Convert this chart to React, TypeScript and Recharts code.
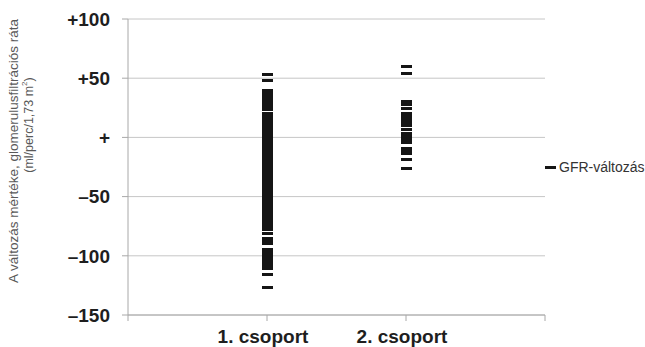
import { ScatterChart, Scatter, XAxis, YAxis, CartesianGrid } from "recharts";

const groups = ["1. csoport", "2. csoport"];
const yTicks = [-150, -100, -50, 0, 50, 100];

// GFR change per patient (ml/perc/1,73 m2)
const group1Values = [
  53, 48,
  39.5, 37.5, 35, 33, 31, 29, 27, 25, 23.5,
  20, 18, 16.5, 14, 12, 10, 8, 6.5, 4, 2, 0, -2, -4, -6, -8, -10, -12, -14,
  -16, -18, -20, -22, -24, -26, -28, -30, -32, -34, -36, -38, -40, -42, -44,
  -46, -48, -50, -52, -54, -56, -58, -60, -62, -64, -66, -68, -70, -72, -74,
  -76, -78,
  -81,
  -85, -87.5, -90,
  -95, -97, -99, -101, -103, -105, -107, -109, -111,
  -116, -127,
];
const group2Values = [
  60, 54, 30.5, 28, 24.5, 20.5, 17.5, 15, 12.5, 10, 7, 3, 0.5, -2, -4.5, -9,
  -11.5, -13.5, -19, -26.5,
];

const group1Data = group1Values.map((v) => ({ x: 1, y: v }));
const group2Data = group2Values.map((v) => ({ x: 2, y: v }));

const fmtY = (v: number) => (v > 0 ? `+${v}` : v === 0 ? "+" : `–${Math.abs(v)}`);
const fmtX = (v: number) => groups[v - 1] ?? "";

// snap to whole pixels so stacked dashes merge into a solid bar
const Dash = (props: any) => (
  <rect
    x={Math.round(props.cx - 5.5)}
    y={Math.round(props.cy - 1.5)}
    width={11}
    height={3}
    fill="#151515"
    shapeRendering="crispEdges"
  />
);

const tickFont = { fontSize: 19, fontWeight: "bold", fill: "#1e1e1e", fontFamily: "Liberation Sans, Arial, sans-serif" };

const titleStyle = {
  position: "absolute" as const,
  transform: "translate(-50%, -50%) rotate(-90deg)",
  whiteSpace: "nowrap" as const,
  fontFamily: "Liberation Sans, Arial, sans-serif",
  color: "#595959",
};

export default function App() {
  return (
    <div style={{ position: "absolute", left: 0, top: 0, width: 645, height: 347, background: "#fff" }}>
      <ScatterChart width={645} height={347} margin={{ top: 19, right: 100, bottom: 0, left: 8 }}>
        <CartesianGrid vertical={false} stroke="#c6c6c6" />
        <XAxis
          type="number"
          dataKey="x"
          domain={[0, 3]}
          ticks={[0, 1, 2, 3]}
          tickFormatter={fmtX}
          height={32}
          tickSize={6}
          tickMargin={9}
          tick={{ ...tickFont, dx: -4 }}
          axisLine={{ stroke: "#a8a8a8" }}
          tickLine={{ stroke: "#a8a8a8" }}
          interval={0}
        />
        <YAxis
          type="number"
          dataKey="y"
          domain={[-150, 100]}
          ticks={yTicks}
          tickFormatter={fmtY}
          width={120}
          tickSize={6}
          tickMargin={12}
          tick={tickFont}
          axisLine={{ stroke: "#a8a8a8" }}
          tickLine={{ stroke: "#a8a8a8" }}
          interval={0}
        />
        <Scatter data={group1Data} shape={Dash} isAnimationActive={false} />
        <Scatter data={group2Data} shape={Dash} isAnimationActive={false} />
      </ScatterChart>

      {/* y axis title, two lines */}
      <div style={{ ...titleStyle, left: 13, top: 151, fontSize: 13.5 }}>
        A változás mértéke, glomerulusfiltrációs ráta
      </div>
      <div style={{ ...titleStyle, left: 28, top: 125, fontSize: 12.5 }}>
        (ml/perc/1,73 m<sup style={{ fontSize: 8 }}>2</sup>)
      </div>

      {/* legend */}
      <div
        style={{
          position: "absolute",
          left: 545,
          top: 159,
          display: "flex",
          alignItems: "center",
          gap: 3,
          fontFamily: "Liberation Sans, Arial, sans-serif",
          fontSize: 14,
          color: "#333",
          whiteSpace: "nowrap",
        }}
      >
        <span style={{ width: 11, height: 3, background: "#151515", display: "inline-block" }} />
        GFR-változás
      </div>
    </div>
  );
}
